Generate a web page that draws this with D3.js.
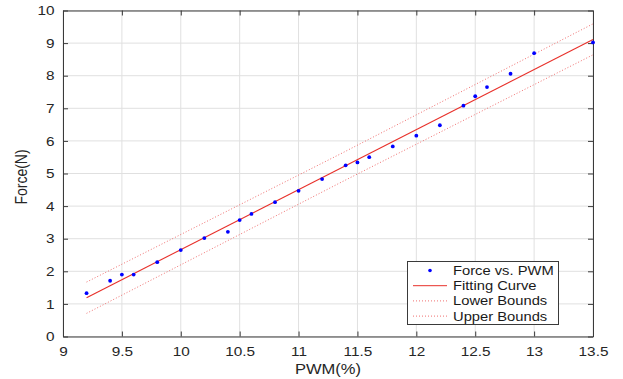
<!DOCTYPE html>
<html>
<head>
<meta charset="utf-8">
<script src="https://cdn.jsdelivr.net/npm/d3@7"></script>
<style>
  body { margin: 0; background: #fff; }
  svg { display: block; font-family: "Liberation Sans", Arial, sans-serif; }
</style>
</head>
<body>
<div id="chart"></div>
<script>
// measured points
var pwm = [9.2, 9.4, 9.5, 9.6, 9.8, 10.0, 10.2, 10.4, 10.5, 10.6, 10.8, 11.0, 11.2,
           11.4, 11.5, 11.6, 11.8, 12.0, 12.2, 12.4, 12.5, 12.6, 12.8, 13.0, 13.5];
var force = [1.33, 1.71, 1.90, 1.90, 2.28, 2.65, 3.02, 3.21, 3.57, 3.76, 4.12, 4.47, 4.83,
             5.25, 5.34, 5.50, 5.83, 6.16, 6.48, 7.08, 7.37, 7.65, 8.06, 8.69, 9.02];

// fitted line and prediction bounds
var fitX = [9.2, 13.5];
var fitY = [1.19, 9.11];
var boundX = [9.2, 11.35, 13.5];
var lowerY = [0.71, 4.71, 8.64];
var upperY = [1.67, 5.59, 9.59];

var xTicks = [9, 9.5, 10, 10.5, 11, 11.5, 12, 12.5, 13, 13.5];
var yTicks = [0, 1, 2, 3, 4, 5, 6, 7, 8, 9, 10];
var legendLabels = ["Force vs. PWM", "Fitting Curve", "Lower Bounds", "Upper Bounds"];

function chart() {
    var width = 623, height = 379;
    var pLeft = 63, pRight = 593, pTop = 10.5, pBottom = 336.5;
    var stretch = 1.18;  // the original picture is a bit wider than tall

    var svg = d3.select("#chart").append("svg")
        .attr("width", width)
        .attr("height", height);

    var x = d3.scaleLinear().domain([9, 13.5]).range([pLeft, pRight]);
    var y = d3.scaleLinear().domain([0, 10]).range([pBottom, pTop]);

    // grid
    svg.append("g").selectAll("line")
        .data(xTicks)
        .enter().append("line")
        .attr("x1", d => x(d)).attr("x2", d => x(d))
        .attr("y1", pTop).attr("y2", pBottom)
        .attr("stroke", "#e0e0e0");
    svg.append("g").selectAll("line")
        .data(yTicks)
        .enter().append("line")
        .attr("x1", pLeft).attr("x2", pRight)
        .attr("y1", d => y(d)).attr("y2", d => y(d))
        .attr("stroke", "#e0e0e0");

    // axes (ticks point inward, box on)
    var axisColor = "#3a3a3a";
    function styleAxis(g) {
        g.select(".domain").attr("stroke", axisColor);
        g.selectAll(".tick line").attr("stroke", axisColor);
        g.selectAll("text")
            .attr("fill", "#262626")
            .style("font-size", "13px")
            .style("font-family", "'Liberation Sans', Arial, sans-serif");
    }

    var xAxis = svg.append("g")
        .attr("transform", "translate(0," + pBottom + ")")
        .call(d3.axisBottom(x).tickValues(xTicks).tickSize(-5).tickSizeOuter(0).tickFormat(d3.format("")));
    styleAxis(xAxis);
    xAxis.selectAll("text").attr("y", 19.5).attr("dy", null)
        .attr("transform", "scale(" + stretch + ",1)");

    var yAxis = svg.append("g")
        .attr("transform", "translate(" + pLeft + ",0)")
        .call(d3.axisLeft(y).tickValues(yTicks).tickSize(-5).tickSizeOuter(0));
    styleAxis(yAxis);
    yAxis.selectAll("text").attr("x", -8.5 / stretch)
        .attr("transform", "scale(" + stretch + ",1)");

    var xTop = svg.append("g")
        .attr("transform", "translate(0," + pTop + ")")
        .call(d3.axisTop(x).tickValues(xTicks).tickSize(-5).tickSizeOuter(0).tickFormat(""));
    styleAxis(xTop);
    var yRight = svg.append("g")
        .attr("transform", "translate(" + pRight + ",0)")
        .call(d3.axisRight(y).tickValues(yTicks).tickSize(-5).tickSizeOuter(0).tickFormat(""));
    styleAxis(yRight);

    // axis titles
    svg.append("text")
        .attr("transform", "translate(" + ((pLeft + pRight) / 2) + ",373.5) scale(" + stretch + ",1)")
        .attr("text-anchor", "middle")
        .attr("fill", "#262626")
        .style("font-size", "14px")
        .text("PWM(%)");
    svg.append("text")
        .attr("transform", "translate(27,177) scale(" + stretch + ",1) rotate(-90)")
        .attr("text-anchor", "middle")
        .attr("fill", "#262626")
        .style("font-size", "14px")
        .text("Force(N)");

    // lines
    var line = d3.line().x(d => x(d[0])).y(d => y(d[1]));

    svg.append("path")
        .datum(boundX.map((d, i) => [d, lowerY[i]]))
        .attr("d", line)
        .attr("fill", "none")
        .attr("stroke", "#f07070")
        .attr("stroke-width", 1)
        .attr("stroke-dasharray", "1,2");
    svg.append("path")
        .datum(boundX.map((d, i) => [d, upperY[i]]))
        .attr("d", line)
        .attr("fill", "none")
        .attr("stroke", "#f07070")
        .attr("stroke-width", 1)
        .attr("stroke-dasharray", "1,2");
    svg.append("path")
        .datum(fitX.map((d, i) => [d, fitY[i]]))
        .attr("d", line)
        .attr("fill", "none")
        .attr("stroke", "#e8302a")
        .attr("stroke-width", 1.1);

    // points
    svg.append("g").selectAll("circle")
        .data(pwm.map((d, i) => [d, force[i]]))
        .enter().append("circle")
        .attr("cx", d => x(d[0]))
        .attr("cy", d => y(d[1]))
        .attr("r", 1.9)
        .attr("fill", "#0000ff");

    // legend
    var lg = svg.append("g");
    lg.append("rect")
        .attr("x", 407.5).attr("y", 261.5)
        .attr("width", 151).attr("height", 63)
        .attr("fill", "#fff")
        .attr("stroke", "#3a3a3a");

    var entries = lg.selectAll("g.entry")
        .data(legendLabels)
        .enter().append("g")
        .attr("class", "entry")
        .attr("transform", (d, i) => "translate(0," + (270.5 + i * 15.2) + ")");

    entries.each(function (d, i) {
        var e = d3.select(this);
        if (i === 0) {
            e.append("circle").attr("cx", 430).attr("cy", 0).attr("r", 1.8).attr("fill", "#0000ff");
        } else {
            e.append("line")
                .attr("x1", 413).attr("x2", 447)
                .attr("y1", 0).attr("y2", 0)
                .attr("stroke", i === 1 ? "#e8302a" : "#f07070")
                .attr("stroke-dasharray", i === 1 ? null : "1,2");
        }
        e.append("text")
            .attr("transform", "translate(453,0) scale(" + stretch + ",1)")
            .attr("dy", "0.36em")
            .attr("fill", "#1a1a1a")
            .style("font-size", "12.5px")
            .text(d);
    });
}

chart();
</script>
</body>
</html>
